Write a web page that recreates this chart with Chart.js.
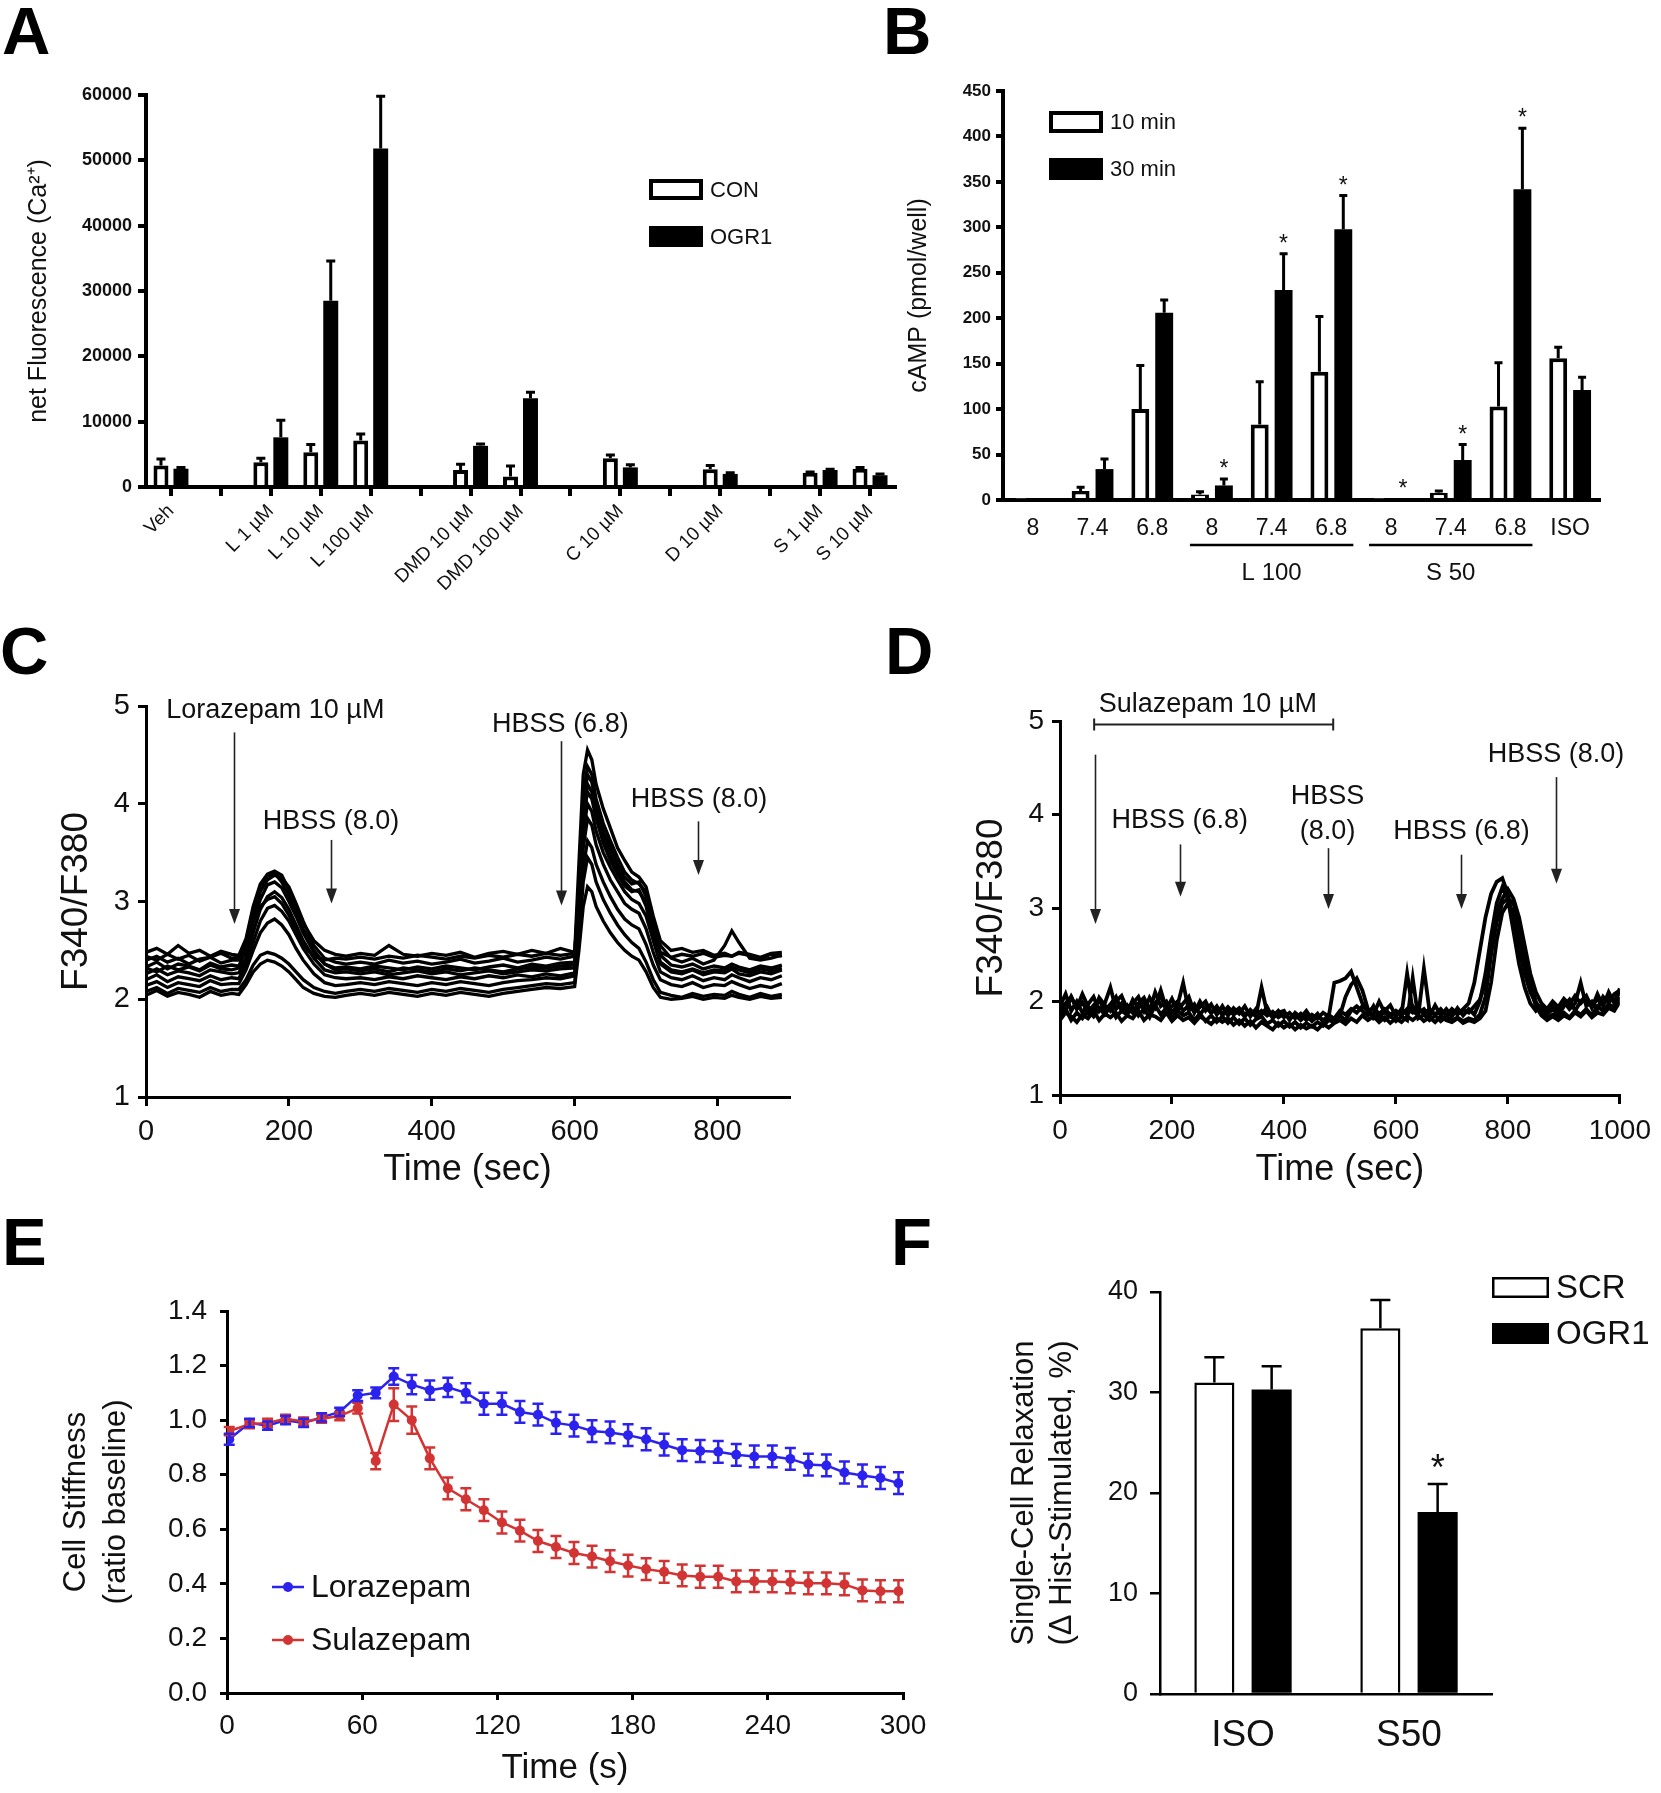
<!DOCTYPE html>
<html>
<head>
<meta charset="utf-8">
<title>OGR1 / benzodiazepine figure</title>
<script src="https://cdn.jsdelivr.net/npm/chart.js@4.4.1/dist/chart.umd.min.js"></script>
<style>
  html, body { margin: 0; padding: 0; background: #fff; }
  #page { position: relative; width: 1661px; height: 1793px; overflow: hidden; }
  #page canvas { position: absolute; }
  .tag { position: absolute; font: bold 67px "Liberation Sans", Arial, sans-serif; line-height: 67px; color: #000; }
</style>
</head>
<body>
<div id="page">
  <div class="tag" style="left:2px;top:-3px">A</div>
  <div class="tag" style="left:883px;top:-3px">B</div>
  <div class="tag" style="left:0px;top:617px">C</div>
  <div class="tag" style="left:885px;top:617px">D</div>
  <div class="tag" style="left:2px;top:1208px">E</div>
  <div class="tag" style="left:891px;top:1208px">F</div>
  <canvas id="cA" width="900" height="570" style="left:0;top:60px"></canvas>
  <canvas id="cB" width="761" height="540" style="left:900px;top:60px"></canvas>
  <canvas id="cC" width="840" height="560" style="left:0;top:640px"></canvas>
  <canvas id="cD" width="761" height="560" style="left:900px;top:640px"></canvas>
  <canvas id="cE" width="940" height="563" style="left:0;top:1230px"></canvas>
  <canvas id="cF" width="721" height="563" style="left:940px;top:1230px"></canvas>
</div>
<script>
/* ---------- A: Ca2+ response, CON vs OGR1 ---------- */
var A_CATS = ["Veh", "", "L 1 µM", "L 10 µM", "L 100 µM", "", "DMD 10 µM", "DMD 100 µM", "",
              "C 10 µM", "", "D 10 µM", "", "S 1 µM", "S 10 µM"];
var A_CON      = [3300, null, 3800, 5300, 7100, null, 2600, 1600, null, 4400, null, 2700, null, 2200, 2800];
var A_CON_ERR  = [1000, null, 600, 1200, 1000, null, 900, 1600, null, 500, null, 600, null, 100, 200];
var A_OGR1     = [2800, null, 7600, 28500, 51800, null, 6300, 13600, null, 3000, null, 2000, null, 2600, 1800];
var A_OGR1_ERR = [200, null, 2600, 6100, 8000, null, 300, 900, null, 400, null, 200, null, 100, 200];
var A_TICKS = [0, 10000, 20000, 30000, 40000, 50000, 60000];

/* ---------- B: cAMP ---------- */
var B_CATS = ["8", "7.4", "6.8", "8", "7.4", "6.8", "8", "7.4", "6.8", "ISO"];
var B_10MIN     = [1.5, 10, 100, 6, 83, 141, 1.5, 8, 103, 156];
var B_10MIN_ERR = [0, 4, 48, 3, 47, 61, 0, 2, 48, 12];
var B_30MIN     = [1.5, 34, 206, 16, 231, 298, 1.5, 44, 342, 121];
var B_30MIN_ERR = [0, 11, 14, 7, 40, 37, 0, 17, 67, 14];
var B_30MIN_STAR = [0, 0, 0, 1, 1, 1, 1, 1, 1, 0];
var B_GROUPS = [["L 100", 3, 5], ["S 50", 6, 8]];
var B_TICKS = [0, 50, 100, 150, 200, 250, 300, 350, 400, 450];

/* ---------- C: lorazepam single-cell traces ---------- */
var C_T = [0, 15, 30, 45, 60, 75, 90, 105, 120,
  130, 140, 150, 160, 170, 180, 190, 200, 210, 220, 235, 250, 265, 280,
  300, 320, 340, 360, 380, 400, 420, 440, 460, 480, 500, 520, 540, 560, 580, 600,
  606, 612, 618, 624, 630, 640, 650, 660, 670, 680, 690, 700, 710, 720, 735, 750, 765, 780, 795, 810, 820, 830, 845, 860, 875, 890];
var C_CELL_1 = [2.48, 2.52, 2.46, 2.55, 2.47, 2.50, 2.44, 2.49, 2.46,
  2.45, 2.62, 2.95, 3.18, 3.28, 3.31, 3.27, 3.12, 2.95, 2.78, 2.6, 2.5, 2.46, 2.44,
  2.47, 2.45, 2.55, 2.46, 2.44, 2.47, 2.45, 2.48, 2.43, 2.47, 2.49, 2.46, 2.5, 2.47, 2.52, 2.48,
  3.4, 4.3, 4.55, 4.45, 4.2, 3.95, 3.75, 3.55, 3.42, 3.3, 3.25, 3.15, 2.85, 2.6, 2.5, 2.52, 2.48, 2.5, 2.45, 2.47, 2.44, 2.48, 2.46, 2.43, 2.47, 2.48];
var C_CELL_2 = [2.40, 2.44, 2.38, 2.42, 2.36, 2.41, 2.43, 2.37, 2.40,
  2.40, 2.55, 2.85, 3.10, 3.22, 3.27, 3.24, 3.15, 2.98, 2.8, 2.55, 2.42, 2.38, 2.36,
  2.38, 2.36, 2.40, 2.37, 2.39, 2.36, 2.38, 2.41, 2.37, 2.39, 2.42, 2.38, 2.40, 2.43, 2.41, 2.44,
  3.2, 4.1, 4.38, 4.3, 4.05, 3.8, 3.62, 3.45, 3.3, 3.22, 3.18, 3.1, 2.8, 2.55, 2.42, 2.38, 2.42, 2.36, 2.4, 2.55, 2.7, 2.58, 2.42, 2.4, 2.42, 2.45];
var C_CELL_3 = [2.33, 2.38, 2.31, 2.36, 2.34, 2.30, 2.37, 2.33, 2.35,
  2.34, 2.5, 2.78, 3.02, 3.17, 3.2, 3.14, 3.0, 2.85, 2.68, 2.48, 2.36, 2.32, 2.33,
  2.31, 2.34, 2.32, 2.30, 2.33, 2.31, 2.34, 2.32, 2.30, 2.33, 2.35, 2.32, 2.36, 2.34, 2.37, 2.38,
  3.0, 3.9, 4.2, 4.12, 3.9, 3.65, 3.48, 3.32, 3.2, 3.12, 3.1, 3.0, 2.72, 2.45, 2.35, 2.33, 2.36, 2.31, 2.34, 2.32, 2.36, 2.33, 2.3, 2.34, 2.32, 2.35];
var C_CELL_4 = [2.26, 2.31, 2.25, 2.29, 2.27, 2.24, 2.30, 2.28, 2.26,
  2.27, 2.42, 2.68, 2.92, 3.05, 3.1, 3.04, 2.92, 2.76, 2.6, 2.42, 2.3, 2.27, 2.28,
  2.26, 2.28, 2.25, 2.27, 2.29, 2.26, 2.28, 2.25, 2.27, 2.29, 2.26, 2.28, 2.3, 2.29, 2.31, 2.32,
  2.9, 3.7, 4.0, 3.92, 3.72, 3.5, 3.35, 3.22, 3.1, 3.02, 2.98, 2.85, 2.6, 2.36, 2.28, 2.26, 2.3, 2.25, 2.28, 2.27, 2.31, 2.26, 2.24, 2.28, 2.26, 2.3];
var C_CELL_5 = [2.20, 2.25, 2.18, 2.23, 2.21, 2.19, 2.24, 2.20, 2.22,
  2.21, 2.36, 2.58, 2.8, 2.93, 2.96, 2.9, 2.8, 2.66, 2.52, 2.36, 2.25, 2.22, 2.21,
  2.22, 2.2, 2.23, 2.21, 2.24, 2.22, 2.2, 2.23, 2.21, 2.24, 2.22, 2.25, 2.23, 2.26, 2.24, 2.27,
  2.8, 3.55, 3.85, 3.78, 3.58, 3.38, 3.22, 3.1, 2.98, 2.92, 2.88, 2.72, 2.48, 2.28, 2.22, 2.2, 2.24, 2.19, 2.22, 2.2, 2.25, 2.22, 2.18, 2.22, 2.2, 2.24];
var C_CELL_6 = [2.14, 2.18, 2.12, 2.17, 2.15, 2.13, 2.19, 2.15, 2.16,
  2.16, 2.3, 2.5, 2.68, 2.78, 2.82, 2.76, 2.66, 2.52, 2.4, 2.26, 2.17, 2.14, 2.15,
  2.17, 2.15, 2.18, 2.16, 2.14, 2.17, 2.15, 2.18, 2.16, 2.14, 2.17, 2.19, 2.2, 2.22, 2.21, 2.24,
  2.7, 3.35, 3.62, 3.55, 3.38, 3.2, 3.05, 2.92, 2.82, 2.76, 2.72, 2.56, 2.35, 2.2, 2.15, 2.13, 2.17, 2.12, 2.15, 2.14, 2.18, 2.15, 2.11, 2.14, 2.12, 2.16];
var C_CELL_7 = [2.08, 2.12, 2.06, 2.11, 2.09, 2.07, 2.12, 2.08, 2.10,
  2.1, 2.2, 2.35, 2.45, 2.48, 2.46, 2.42, 2.36, 2.28, 2.2, 2.12, 2.08, 2.06, 2.08,
  2.1, 2.08, 2.11, 2.09, 2.07, 2.1, 2.08, 2.11, 2.09, 2.07, 2.1, 2.12, 2.14, 2.16, 2.15, 2.17,
  2.6, 3.2, 3.45, 3.38, 3.2, 3.02, 2.88, 2.76, 2.66, 2.58, 2.52, 2.38, 2.2, 2.07, 2.04, 2.02, 2.06, 2.03, 2.05, 2.04, 2.08, 2.05, 2.02, 2.06, 2.03, 2.05];
var C_CELL_8 = [2.04, 2.09, 2.03, 2.07, 2.05, 2.02, 2.08, 2.04, 2.06,
  2.05, 2.15, 2.28, 2.36, 2.4, 2.38, 2.34, 2.28, 2.2, 2.12, 2.06, 2.03, 2.02, 2.04,
  2.06, 2.04, 2.07, 2.05, 2.03, 2.06, 2.04, 2.07, 2.05, 2.03, 2.06, 2.08, 2.1, 2.12, 2.11, 2.13,
  2.5, 2.95, 3.15, 3.1, 2.95, 2.8, 2.68, 2.58, 2.5, 2.44, 2.4, 2.28, 2.12, 2.02, 2.0, 2.01, 2.03, 2.0, 2.02, 2.01, 2.04, 2.02, 2.0, 2.03, 2.01, 2.02];
var C_CELL_9 = [2.44, 2.40, 2.46, 2.41, 2.45, 2.39, 2.43, 2.47, 2.42,
  2.43, 2.58, 2.8, 2.95, 3.02, 3.05, 2.98, 2.86, 2.7, 2.55, 2.44, 2.4, 2.42, 2.41,
  2.43, 2.41, 2.44, 2.42, 2.45, 2.43, 2.41, 2.44, 2.42, 2.45, 2.43, 2.46, 2.44, 2.47, 2.45, 2.47,
  3.1, 3.95, 4.3, 4.22, 3.98, 3.72, 3.55, 3.38, 3.25, 3.18, 3.2, 3.05, 2.7, 2.48, 2.43, 2.46, 2.44, 2.47, 2.43, 2.45, 2.44, 2.47, 2.45, 2.42, 2.46, 2.44];
var C_CELL_10 = [2.32, 2.28, 2.34, 2.30, 2.33, 2.29, 2.35, 2.31, 2.30,
  2.32, 2.52, 2.85, 3.12, 3.26, 3.29, 3.2, 3.06, 2.9, 2.72, 2.5, 2.36, 2.3, 2.31,
  2.29, 2.31, 2.28, 2.32, 2.3, 2.28, 2.31, 2.29, 2.32, 2.3, 2.28, 2.31, 2.33, 2.32, 2.34, 2.35,
  3.05, 3.85, 4.12, 4.05, 3.85, 3.6, 3.42, 3.28, 3.16, 3.1, 3.12, 2.95, 2.62, 2.38, 2.3, 2.28, 2.31, 2.27, 2.3, 2.29, 2.33, 2.3, 2.27, 2.31, 2.29, 2.32];
var C_CELLS = [C_CELL_1, C_CELL_2, C_CELL_3, C_CELL_4, C_CELL_5, C_CELL_6, C_CELL_7, C_CELL_8, C_CELL_9, C_CELL_10];
// additions: [time, arrow top, arrow tip] and [text, time, y]
var C_ARROWS = [[123, 4.73, 2.77], [259, 3.63, 2.98], [581, 4.64, 2.96], [773, 3.82, 3.27]];
var C_NOTES = [["Lorazepam 10 µM", 181, 4.95], ["HBSS (8.0)", 259, 3.82], ["HBSS (6.8)", 580, 4.81], ["HBSS (8.0)", 774, 4.04]];

/* ---------- D: sulazepam single-cell traces ---------- */
var D_T = [0, 10, 20, 30, 40, 50, 60, 70, 80, 90, 100, 110, 120, 130, 140, 150, 160, 170, 180, 190,
  200, 210, 220, 230, 240, 250, 260, 270, 280, 290, 300, 310, 320, 330, 340, 350, 360, 370, 380, 390,
  400, 410, 420, 430, 440, 450, 460, 470, 480, 490, 500, 510, 520, 530, 540, 550, 560, 570, 580, 590,
  600, 610, 620, 630, 640, 650, 660, 670, 680, 690, 700, 710, 720, 730, 740, 750, 760, 770, 780, 790,
  800, 810, 820, 830, 840, 850, 860, 870, 880, 890, 900, 910, 920, 930, 940, 950, 960, 970, 980, 990, 1000];
var D_CELL_1 = [1.95, 2.08, 1.9, 2.0, 1.88, 1.97, 2.05, 1.9, 1.98, 2.15,
  1.92, 1.98, 1.88, 2.02, 1.93, 1.99, 1.9, 2.1, 1.95, 2.0,
  1.88, 1.96, 2.2, 1.9, 1.97, 1.86, 1.94, 1.88, 1.95, 1.85,
  1.92, 1.86, 1.9, 1.84, 1.91, 1.85, 2.15, 1.88, 1.84, 1.9,
  1.83, 1.88, 1.82, 1.87, 1.8, 1.86, 1.82, 1.88, 1.84, 2.2,
  2.22, 2.25, 2.32, 2.15, 1.98, 1.9, 1.86, 2.0, 1.88, 1.84,
  1.9, 1.86, 2.3, 1.9, 1.85, 2.35, 1.9, 1.86, 1.92, 1.85,
  1.9, 1.86, 1.92, 1.98, 2.2, 2.55, 2.9, 3.15, 3.28, 3.32,
  3.15, 2.85, 2.55, 2.3, 2.1, 1.98, 1.92, 1.88, 1.95, 1.9,
  2.0, 1.92, 1.98, 2.2, 1.95, 2.0, 1.92, 2.05, 1.98, 2.08, 2.12];
var D_CELL_2 = [1.85, 1.92, 1.8, 1.88, 1.82, 1.9, 1.84, 1.93, 1.86, 1.95,
  1.83, 1.9, 1.86, 1.94, 1.85, 1.92, 1.83, 1.96, 1.86, 1.93,
  1.82, 1.9, 1.85, 1.88, 1.8, 1.87, 1.79, 1.85, 1.78, 1.84,
  1.77, 1.83, 1.76, 1.82, 1.75, 1.81, 1.84, 1.76, 1.8, 1.74,
  1.79, 1.73, 1.78, 1.72, 1.77, 1.73, 1.78, 1.74, 1.8, 1.78,
  1.85, 2.05, 2.18, 2.25, 2.12, 1.92, 1.82, 1.86, 1.8, 1.85,
  1.79, 1.84, 1.8, 2.25, 1.82, 1.86, 1.8, 1.85, 1.79, 1.84,
  1.8, 1.83, 1.79, 1.82, 1.8, 1.86, 2.05, 2.5, 2.85, 3.05,
  3.1, 3.05, 2.8, 2.5, 2.2, 2.0, 1.88, 1.82, 1.86, 1.84,
  1.88, 1.83, 1.9, 1.86, 1.92, 1.85, 1.95, 1.9, 1.97, 1.94, 2.05];
var D_CELL_3 = [1.9, 1.98, 2.05, 1.92, 1.99, 1.88, 1.96, 2.02, 1.9, 1.97,
  2.05, 1.9, 1.96, 1.88, 1.98, 2.04, 1.92, 1.98, 2.06, 1.9,
  1.95, 2.0, 1.9, 1.96, 1.89, 1.94, 2.0, 1.88, 1.92, 1.87,
  1.94, 1.88, 1.93, 1.86, 1.9, 1.84, 1.9, 1.85, 1.89, 1.83,
  1.87, 1.82, 1.86, 1.8, 1.85, 1.79, 1.84, 1.8, 1.85, 1.82,
  1.9, 1.86, 1.92, 1.88, 1.95, 1.9, 1.93, 1.87, 1.92, 1.86,
  1.9, 1.85, 1.92, 1.88, 1.93, 1.87, 1.92, 1.86, 1.9, 1.85,
  1.92, 1.87, 1.91, 1.88, 1.95, 2.02, 2.2, 2.6, 2.95, 3.1,
  3.2, 3.1, 2.9, 2.6, 2.3, 2.1, 1.98, 1.92, 2.0, 1.94,
  2.03, 1.97, 2.06, 1.98, 2.04, 1.96, 2.02, 1.97, 2.05, 2.0, 2.1];
var D_CELL_4 = [2.02, 1.9, 2.05, 1.93, 2.08, 1.95, 1.88, 2.04, 1.96, 1.9,
  2.0, 2.06, 1.92, 1.98, 2.05, 1.9, 2.04, 1.94, 2.12, 1.92,
  2.03, 1.9, 1.98, 2.05, 1.88, 2.0, 1.9, 1.97, 1.86, 1.95,
  1.85, 1.93, 1.87, 1.95, 1.84, 1.92, 1.86, 1.94, 1.82, 1.88,
  1.9, 1.8, 1.88, 1.83, 1.9, 1.81, 1.87, 1.78, 1.86, 1.8,
  1.85, 1.8, 1.9, 1.95, 1.9, 1.85, 1.95, 1.82, 1.9, 1.96,
  1.84, 1.92, 1.86, 1.95, 1.88, 1.92, 1.84, 1.96, 1.85, 1.92,
  1.84, 1.93, 1.85, 1.92, 1.86, 2.0, 2.3, 2.7, 3.05, 3.22,
  3.1, 2.75, 2.4, 2.15, 1.98, 1.9, 1.96, 1.86, 1.92, 1.85,
  1.95, 2.02, 1.9, 2.0, 2.06, 1.93, 2.08, 1.95, 2.1, 1.98, 2.14];
var D_CELL_5 = [1.8, 1.88, 1.84, 1.78, 1.86, 1.82, 1.9, 1.8, 1.87, 1.83,
  1.88, 1.79, 1.85, 1.82, 1.9, 1.8, 1.86, 1.84, 1.8, 1.88,
  1.79, 1.85, 1.8, 1.83, 1.77, 1.84, 1.8, 1.76, 1.82, 1.78,
  1.82, 1.75, 1.8, 1.74, 1.79, 1.72, 1.78, 1.74, 1.7, 1.77,
  1.72, 1.76, 1.7, 1.75, 1.71, 1.74, 1.7, 1.76, 1.72, 1.77,
  1.8, 1.76, 1.82, 1.78, 1.85, 1.8, 1.84, 1.78, 1.83, 1.77,
  1.82, 1.78, 1.84, 1.8, 1.85, 1.79, 1.83, 1.78, 1.84, 1.8,
  1.78, 1.82, 1.77, 1.8, 1.78, 1.82, 1.9, 2.2, 2.65, 2.95,
  3.05, 2.95, 2.7, 2.4, 2.15, 1.95, 1.85, 1.8, 1.84, 1.8,
  1.85, 1.82, 1.88, 1.84, 1.9, 1.83, 1.88, 1.86, 1.93, 1.9, 2.0];
var D_CELLS = [D_CELL_1, D_CELL_2, D_CELL_3, D_CELL_4, D_CELL_5];
var D_ARROWS = [[62, 4.64, 2.83], [215, 3.68, 3.12], [478, 3.64, 2.99], [717, 3.57, 2.99], [886, 4.40, 3.26]];
var D_NOTES = [["Sulazepam 10 µM", 264, 5.18], ["HBSS (6.8)", 214, 3.94], ["HBSS", 478, 4.19], ["(8.0)", 478, 3.82],
  ["HBSS (6.8)", 717, 3.82], ["HBSS (8.0)", 886, 4.64]];
var D_SPAN = [61, 488, 4.97];   // sulazepam on/off, bracket height

/* ---------- E: cell stiffness ---------- */
var E_T = [1, 10, 18, 26, 34, 42, 50, 58, 66, 74, 82, 90, 98, 106, 114, 122, 130, 138, 146, 154,
  162, 170, 178, 186, 194, 202, 210, 218, 226, 234, 242, 250, 258, 266, 274, 282, 290, 298];
var E_LORAZ = [0.93, 0.99, 0.98, 1.00, 0.99, 1.01, 1.03, 1.09, 1.10, 1.16, 1.13, 1.11, 1.12, 1.10, 1.06, 1.06, 1.03, 1.02, 0.99, 0.98,
  0.96, 0.955, 0.945, 0.93, 0.91, 0.89, 0.887, 0.884, 0.873, 0.867, 0.867, 0.858, 0.837, 0.834, 0.808, 0.797, 0.788, 0.769];
var E_LORAZ_ERR = [0.02, 0.015, 0.015, 0.015, 0.015, 0.015, 0.015, 0.02, 0.02, 0.03, 0.035, 0.035, 0.035, 0.035, 0.04, 0.04, 0.04, 0.04, 0.04, 0.04,
  0.04, 0.04, 0.04, 0.04, 0.04, 0.04, 0.04, 0.04, 0.04, 0.04, 0.04, 0.04, 0.04, 0.04, 0.04, 0.04, 0.04, 0.04];
var E_SULAZ = [0.96, 0.985, 0.99, 1.005, 0.995, 1.005, 1.015, 1.044, 0.85, 1.057, 1.00, 0.86, 0.75, 0.71, 0.67, 0.625, 0.595, 0.557, 0.535, 0.513,
  0.50, 0.483, 0.467, 0.454, 0.444, 0.431, 0.426, 0.426, 0.409, 0.41, 0.409, 0.406, 0.402, 0.402, 0.398, 0.376, 0.373, 0.373];
var E_SULAZ_ERR = [0.015, 0.015, 0.015, 0.015, 0.015, 0.015, 0.015, 0.02, 0.03, 0.06, 0.05, 0.04, 0.04, 0.04, 0.04, 0.04, 0.04, 0.04, 0.04, 0.04,
  0.04, 0.04, 0.04, 0.04, 0.04, 0.04, 0.04, 0.04, 0.04, 0.04, 0.04, 0.04, 0.04, 0.04, 0.04, 0.04, 0.04, 0.04];

/* ---------- F: single-cell relaxation ---------- */
var F_CATS = ["ISO", "S50"];
var F_SCR = [31.0, 36.4];
var F_SCR_ERR = [2.5, 2.8];
var F_OGR1 = [30.3, 18.1];
var F_OGR1_ERR = [2.3, 2.8];
var F_OGR1_STAR = [0, 1];

/* ============================================================ */
var FONT = "'Liberation Sans', Arial, Helvetica, sans-serif";
var INK = "#111";
Chart.defaults.font.family = FONT;
Chart.defaults.color = INK;
Chart.defaults.animation = false;
Chart.defaults.responsive = false;
Chart.defaults.plugins.legend.display = false;
Chart.defaults.plugins.tooltip.enabled = false;

function xy(ts, vs) { return vs.map(function (v, i) { return { x: ts[i], y: v }; }); }
function fixedTicks(list) { return function (s) { s.ticks = list.map(function (v) { return { value: v }; }); }; }
function plain(v) { return String(v); }   // no thousands separators

// error bars: errUp = one sided (bars), err = both sides (points)
var errorBars = {
  id: "errorBars",
  afterDatasetsDraw: function (chart) {
    var ctx = chart.ctx, ys = chart.scales.y;
    chart.data.datasets.forEach(function (ds, i) {
      var errs = ds.errUp || ds.err;
      if (!errs) return;
      var meta = chart.getDatasetMeta(i);
      ctx.save();
      ctx.strokeStyle = ds.errColor || "#000";
      ctx.lineWidth = ds.errWidth || 2;
      meta.data.forEach(function (el, j) {
        var p = meta.controller.getParsed(j);
        if (!p || p.y == null || isNaN(p.y) || !errs[j]) return;
        var top = ys.getPixelForValue(p.y + errs[j]);
        var bot = ds.errUp ? el.y : ys.getPixelForValue(p.y - errs[j]);
        var cw = ds.capWidth || 8;
        ctx.beginPath();
        ctx.moveTo(el.x, bot); ctx.lineTo(el.x, top);
        ctx.moveTo(el.x - cw / 2, top); ctx.lineTo(el.x + cw / 2, top);
        if (!ds.errUp) { ctx.moveTo(el.x - cw / 2, bot); ctx.lineTo(el.x + cw / 2, bot); }
        ctx.stroke();
      });
      ctx.restore();
    });
  }
};

function boxLegend(items, font) {
  return {
    id: "boxLegend",
    afterDraw: function (chart) {
      var ctx = chart.ctx;
      ctx.save();
      items.forEach(function (it) {
        var ds = chart.data.datasets[it.ds];
        ctx.fillStyle = "#000";
        ctx.fillRect(it.x, it.y, it.w, it.h);
        if (ds.backgroundColor === "#fff") {
          ctx.fillStyle = "#fff";
          ctx.fillRect(it.x + it.b, it.y + it.b, it.w - 2 * it.b, it.h - 2 * it.b);
        }
        ctx.fillStyle = INK;
        ctx.font = font;
        ctx.textAlign = "left"; ctx.textBaseline = "middle";
        ctx.fillText(ds.label, it.x + it.w + 7, it.y + it.h / 2 + 1);
      });
      ctx.restore();
    }
  };
}

function stars(dsIndex, flags, font, lift) {
  return {
    id: "stars" + dsIndex,
    afterDatasetsDraw: function (chart) {
      var ctx = chart.ctx, ds = chart.data.datasets[dsIndex], meta = chart.getDatasetMeta(dsIndex);
      ctx.save();
      ctx.fillStyle = INK; ctx.font = font;
      ctx.textAlign = "center"; ctx.textBaseline = "alphabetic";
      meta.data.forEach(function (el, j) {
        if (!flags[j]) return;
        var top = chart.scales.y.getPixelForValue(ds.data[j] + (ds.errUp ? ds.errUp[j] : 0));
        ctx.fillText("*", el.x, top - lift);
      });
      ctx.restore();
    }
  };
}

function traceNotes(arrows, notes, font, span) {
  return {
    id: "traceNotes",
    afterDraw: function (chart) {
      var ctx = chart.ctx, xs = chart.scales.x, ys = chart.scales.y;
      ctx.save();
      ctx.strokeStyle = "#222"; ctx.fillStyle = "#222"; ctx.lineWidth = 1.6;
      arrows.forEach(function (a) {
        var px = Math.round(xs.getPixelForValue(a[0])) + 0.5;
        var y0 = ys.getPixelForValue(a[1]), y1 = ys.getPixelForValue(a[2]);
        ctx.beginPath(); ctx.moveTo(px, y0); ctx.lineTo(px, y1 - 10); ctx.stroke();
        ctx.beginPath(); ctx.moveTo(px - 5.5, y1 - 15); ctx.lineTo(px + 5.5, y1 - 15); ctx.lineTo(px, y1); ctx.closePath(); ctx.fill();
      });
      if (span) {
        var x0 = xs.getPixelForValue(span[0]), x1 = xs.getPixelForValue(span[1]), yb = Math.round(ys.getPixelForValue(span[2])) + 0.5;
        ctx.lineWidth = 2;
        ctx.beginPath();
        ctx.moveTo(x0, yb); ctx.lineTo(x1, yb);
        ctx.moveTo(x0, yb - 6); ctx.lineTo(x0, yb + 6);
        ctx.moveTo(x1, yb - 6); ctx.lineTo(x1, yb + 6);
        ctx.stroke();
      }
      ctx.fillStyle = INK; ctx.font = font;
      ctx.textAlign = "center"; ctx.textBaseline = "middle";
      notes.forEach(function (n) { ctx.fillText(n[0], xs.getPixelForValue(n[1]), ys.getPixelForValue(n[2])); });
      ctx.restore();
    }
  };
}

function blackAxis(lw, tick) {
  return {
    grid: { display: true, drawOnChartArea: false, drawTicks: true, tickLength: tick, lineWidth: lw, color: "#000" },
    border: { display: true, color: "#000", width: lw }
  };
}
function merge(a, b) { for (var k in b) a[k] = b[k]; return a; }

/* ---------- A ---------- */
new Chart(document.getElementById("cA"), {
  type: "bar",
  data: {
    labels: A_CATS,
    datasets: [
      { label: "CON", data: A_CON, errUp: A_CON_ERR, backgroundColor: "#fff", borderColor: "#000", borderWidth: 4, errWidth: 3, capWidth: 9 },
      { label: "OGR1", data: A_OGR1, errUp: A_OGR1_ERR, backgroundColor: "#000", borderWidth: 0, errWidth: 3, capWidth: 9 }
    ]
  },
  options: {
    layout: { padding: { top: 35, right: 5, left: 0, bottom: 0 } },
    datasets: { bar: { categoryPercentage: 0.8, barPercentage: 0.75 } },
    scales: {
      x: merge(blackAxis(4, 9), {
        offset: true,
        grid: { display: true, offset: false, drawOnChartArea: false, drawTicks: true, tickLength: 9, lineWidth: 4, color: "#000" },
        ticks: { autoSkip: false, minRotation: 45, maxRotation: 45, padding: 4, font: { size: 19 } },
        afterFit: function (s) { s.height = 143; }
      }),
      y: merge(blackAxis(4, 8), {
        min: 0, max: 60000,
        afterBuildTicks: fixedTicks(A_TICKS),
        ticks: { padding: 6, font: { size: 18, weight: "bold" }, callback: plain },
        title: { display: true, text: "net Fluorescence (Ca²⁺)", font: { size: 25 }, padding: { top: 24 } },
        afterFit: function (s) { s.width = 146; }
      })
    }
  },
  plugins: [errorBars, boxLegend([{ ds: 0, x: 649, y: 119, w: 54, h: 21, b: 4 }, { ds: 1, x: 649, y: 166, w: 54, h: 21, b: 4 }], "22px " + FONT)]
});

/* ---------- B ---------- */
var groupLines = {
  id: "groupLines",
  afterDraw: function (chart) {
    var ctx = chart.ctx, xs = chart.scales.x;
    ctx.save();
    ctx.strokeStyle = "#000"; ctx.lineWidth = 2.5;
    ctx.fillStyle = INK; ctx.font = "24px " + FONT;
    ctx.textAlign = "center"; ctx.textBaseline = "middle";
    B_GROUPS.forEach(function (g) {
      var l = xs.getPixelForValue(g[1]) - 22, r = xs.getPixelForValue(g[2]) + 22;
      ctx.beginPath(); ctx.moveTo(l, 485); ctx.lineTo(r, 485); ctx.stroke();
      ctx.fillText(g[0], (l + r) / 2, 513);
    });
    ctx.restore();
  }
};
new Chart(document.getElementById("cB"), {
  type: "bar",
  data: {
    labels: B_CATS,
    datasets: [
      { label: "10 min", data: B_10MIN, errUp: B_10MIN_ERR, backgroundColor: "#fff", borderColor: "#000", borderWidth: 4, errWidth: 3, capWidth: 8 },
      { label: "30 min", data: B_30MIN, errUp: B_30MIN_ERR, backgroundColor: "#000", borderWidth: 0, errWidth: 3, capWidth: 8 }
    ]
  },
  options: {
    layout: { padding: { top: 31, right: 61, left: 0, bottom: 0 } },
    datasets: { bar: { categoryPercentage: 0.8, barPercentage: 0.75 } },
    scales: {
      x: {
        grid: { display: false },
        border: { display: true, color: "#000", width: 4 },
        ticks: { padding: 7, font: { size: 23 } },
        afterFit: function (s) { s.height = 100; }
      },
      y: merge(blackAxis(4, 7), {
        min: 0, max: 450,
        afterBuildTicks: fixedTicks(B_TICKS),
        ticks: { padding: 5, font: { size: 17, weight: "bold" }, callback: plain },
        title: { display: true, text: "cAMP (pmol/well)", font: { size: 25 }, padding: { top: 4 } },
        afterFit: function (s) { s.width = 103; }
      })
    }
  },
  plugins: [errorBars, stars(1, B_30MIN_STAR, "23px " + FONT, 3), groupLines,
    boxLegend([{ ds: 0, x: 149, y: 51, w: 54, h: 22, b: 4 }, { ds: 1, x: 149, y: 98, w: 54, h: 22, b: 4 }], "22px " + FONT)]
});

/* ---------- C ---------- */
new Chart(document.getElementById("cC"), {
  type: "line",
  data: {
    datasets: C_CELLS.map(function (c, i) {
      return { label: "cell " + (i + 1), data: xy(C_T, c), borderColor: "#000", borderWidth: 3.3, pointRadius: 0, tension: 0 };
    })
  },
  options: {
    layout: { padding: { top: 66, right: 51, left: 0, bottom: 0 } },
    scales: {
      x: merge(blackAxis(3, 9), {
        type: "linear", min: 0, max: 900,
        ticks: { stepSize: 200, includeBounds: false, padding: 9, font: { size: 29 } },
        title: { display: true, text: "Time (sec)", font: { size: 36 }, padding: { bottom: 8 } },
        afterFit: function (s) { s.height = 103; }
      }),
      y: merge(blackAxis(3, 8), {
        min: 1, max: 5,
        ticks: { stepSize: 1, padding: 8, font: { size: 29 } },
        title: { display: true, text: "F340/F380", font: { size: 37 }, padding: { top: 55 } },
        afterFit: function (s) { s.width = 146; }
      })
    }
  },
  plugins: [traceNotes(C_ARROWS, C_NOTES, "27px " + FONT, null)]
});

/* ---------- D ---------- */
new Chart(document.getElementById("cD"), {
  type: "line",
  data: {
    datasets: D_CELLS.map(function (c, i) {
      return { label: "cell " + (i + 1), data: xy(D_T, c), borderColor: "#000", borderWidth: 3.8, pointRadius: 0, tension: 0 };
    })
  },
  options: {
    layout: { padding: { top: 81, right: 40, left: 0, bottom: 0 } },
    scales: {
      x: merge(blackAxis(3, 9), {
        type: "linear", min: 0, max: 1000,
        ticks: { stepSize: 200, padding: 10, font: { size: 28 }, callback: plain },
        title: { display: true, text: "Time (sec)", font: { size: 36 }, padding: { bottom: 8 } },
        afterFit: function (s) { s.height = 105; }
      }),
      y: merge(blackAxis(3, 8), {
        min: 1, max: 5,
        ticks: { stepSize: 1, padding: 8, font: { size: 28 } },
        title: { display: true, text: "F340/F380", font: { size: 37 }, padding: { top: 70 } },
        afterFit: function (s) { s.width = 160; }
      })
    }
  },
  plugins: [traceNotes(D_ARROWS, D_NOTES, "27px " + FONT, D_SPAN)]
});

/* ---------- E ---------- */
var BLUE = "#2b22ee", RED = "#d23434";
var lineLegend = {
  id: "lineLegend",
  afterDraw: function (chart) {
    var ctx = chart.ctx;
    ctx.save();
    [[1, 357], [0, 410]].forEach(function (r) {
      var ds = chart.data.datasets[r[0]];
      ctx.strokeStyle = ds.borderColor; ctx.fillStyle = ds.borderColor; ctx.lineWidth = 2.5;
      ctx.beginPath(); ctx.moveTo(272, r[1]); ctx.lineTo(304, r[1]); ctx.stroke();
      ctx.beginPath(); ctx.arc(288, r[1], 5, 0, Math.PI * 2); ctx.fill();
      ctx.fillStyle = INK; ctx.font = "32px " + FONT;
      ctx.textAlign = "left"; ctx.textBaseline = "middle";
      ctx.fillText(ds.label, 311, r[1] + 1);
    });
    ctx.restore();
  }
};
new Chart(document.getElementById("cE"), {
  type: "line",
  data: {
    datasets: [
      { label: "Sulazepam", order: 0, data: xy(E_T, E_SULAZ), err: E_SULAZ_ERR, errColor: RED, errWidth: 2.5, capWidth: 11,
        borderColor: RED, backgroundColor: RED, borderWidth: 2.5, pointRadius: 5, pointBorderWidth: 0, tension: 0 },
      { label: "Lorazepam", order: 1, data: xy(E_T, E_LORAZ), err: E_LORAZ_ERR, errColor: BLUE, errWidth: 2.5, capWidth: 11,
        borderColor: BLUE, backgroundColor: BLUE, borderWidth: 2.5, pointRadius: 5, pointBorderWidth: 0, tension: 0 }
    ]
  },
  options: {
    layout: { padding: { top: 81, right: 37, left: 0, bottom: 0 } },
    scales: {
      x: merge(blackAxis(3, 7), {
        type: "linear", min: 0, max: 300,
        ticks: { stepSize: 60, padding: 9, font: { size: 28 } },
        title: { display: true, text: "Time (s)", font: { size: 35 }, padding: { bottom: 4 } },
        afterFit: function (s) { s.height = 100; }
      }),
      y: merge(blackAxis(3, 7), {
        min: 0, max: 1.4,
        ticks: { stepSize: 0.2, padding: 13, font: { size: 28 }, callback: function (v) { return v.toFixed(1); } },
        title: { display: true, text: ["Cell Stiffness", "(ratio baseline)"], font: { size: 31, lineHeight: 1.3 }, padding: { top: 56 } },
        afterFit: function (s) { s.width = 227; }
      })
    }
  },
  plugins: [errorBars, lineLegend]
});

/* ---------- F ---------- */
new Chart(document.getElementById("cF"), {
  type: "bar",
  data: {
    labels: F_CATS,
    datasets: [
      { label: "SCR", data: F_SCR, errUp: F_SCR_ERR, backgroundColor: "#fff", borderColor: "#000", borderWidth: 2.5, errWidth: 2.5, capWidth: 20 },
      { label: "OGR1", data: F_OGR1, errUp: F_OGR1_ERR, backgroundColor: "#000", borderWidth: 0, errWidth: 2.5, capWidth: 20 }
    ]
  },
  options: {
    layout: { padding: { top: 62, right: 169, left: 0, bottom: 0 } },
    datasets: { bar: { categoryPercentage: 0.69, barPercentage: 0.7 } },
    scales: {
      x: {
        grid: { display: false },
        border: { display: true, color: "#000", width: 2.5 },
        ticks: { padding: 12, font: { size: 37 } },
        afterFit: function (s) { s.height = 99; }
      },
      y: merge(blackAxis(2.5, 10), {
        min: 0, max: 40,
        ticks: { stepSize: 10, padding: 12, font: { size: 27 } },
        title: { display: true, text: ["Single-Cell Relaxation", "(Δ Hist-Stimulated, %)"], font: { size: 31, lineHeight: 1.22 }, padding: { top: 66 } },
        afterFit: function (s) { s.width = 220; }
      })
    }
  },
  plugins: [errorBars, stars(1, F_OGR1_STAR, "36px " + FONT, 4),
    boxLegend([{ ds: 0, x: 552, y: 47, w: 57, h: 21, b: 2.5 }, { ds: 1, x: 552, y: 93, w: 57, h: 21, b: 2.5 }], "33px " + FONT)]
});
</script>
</body>
</html>
